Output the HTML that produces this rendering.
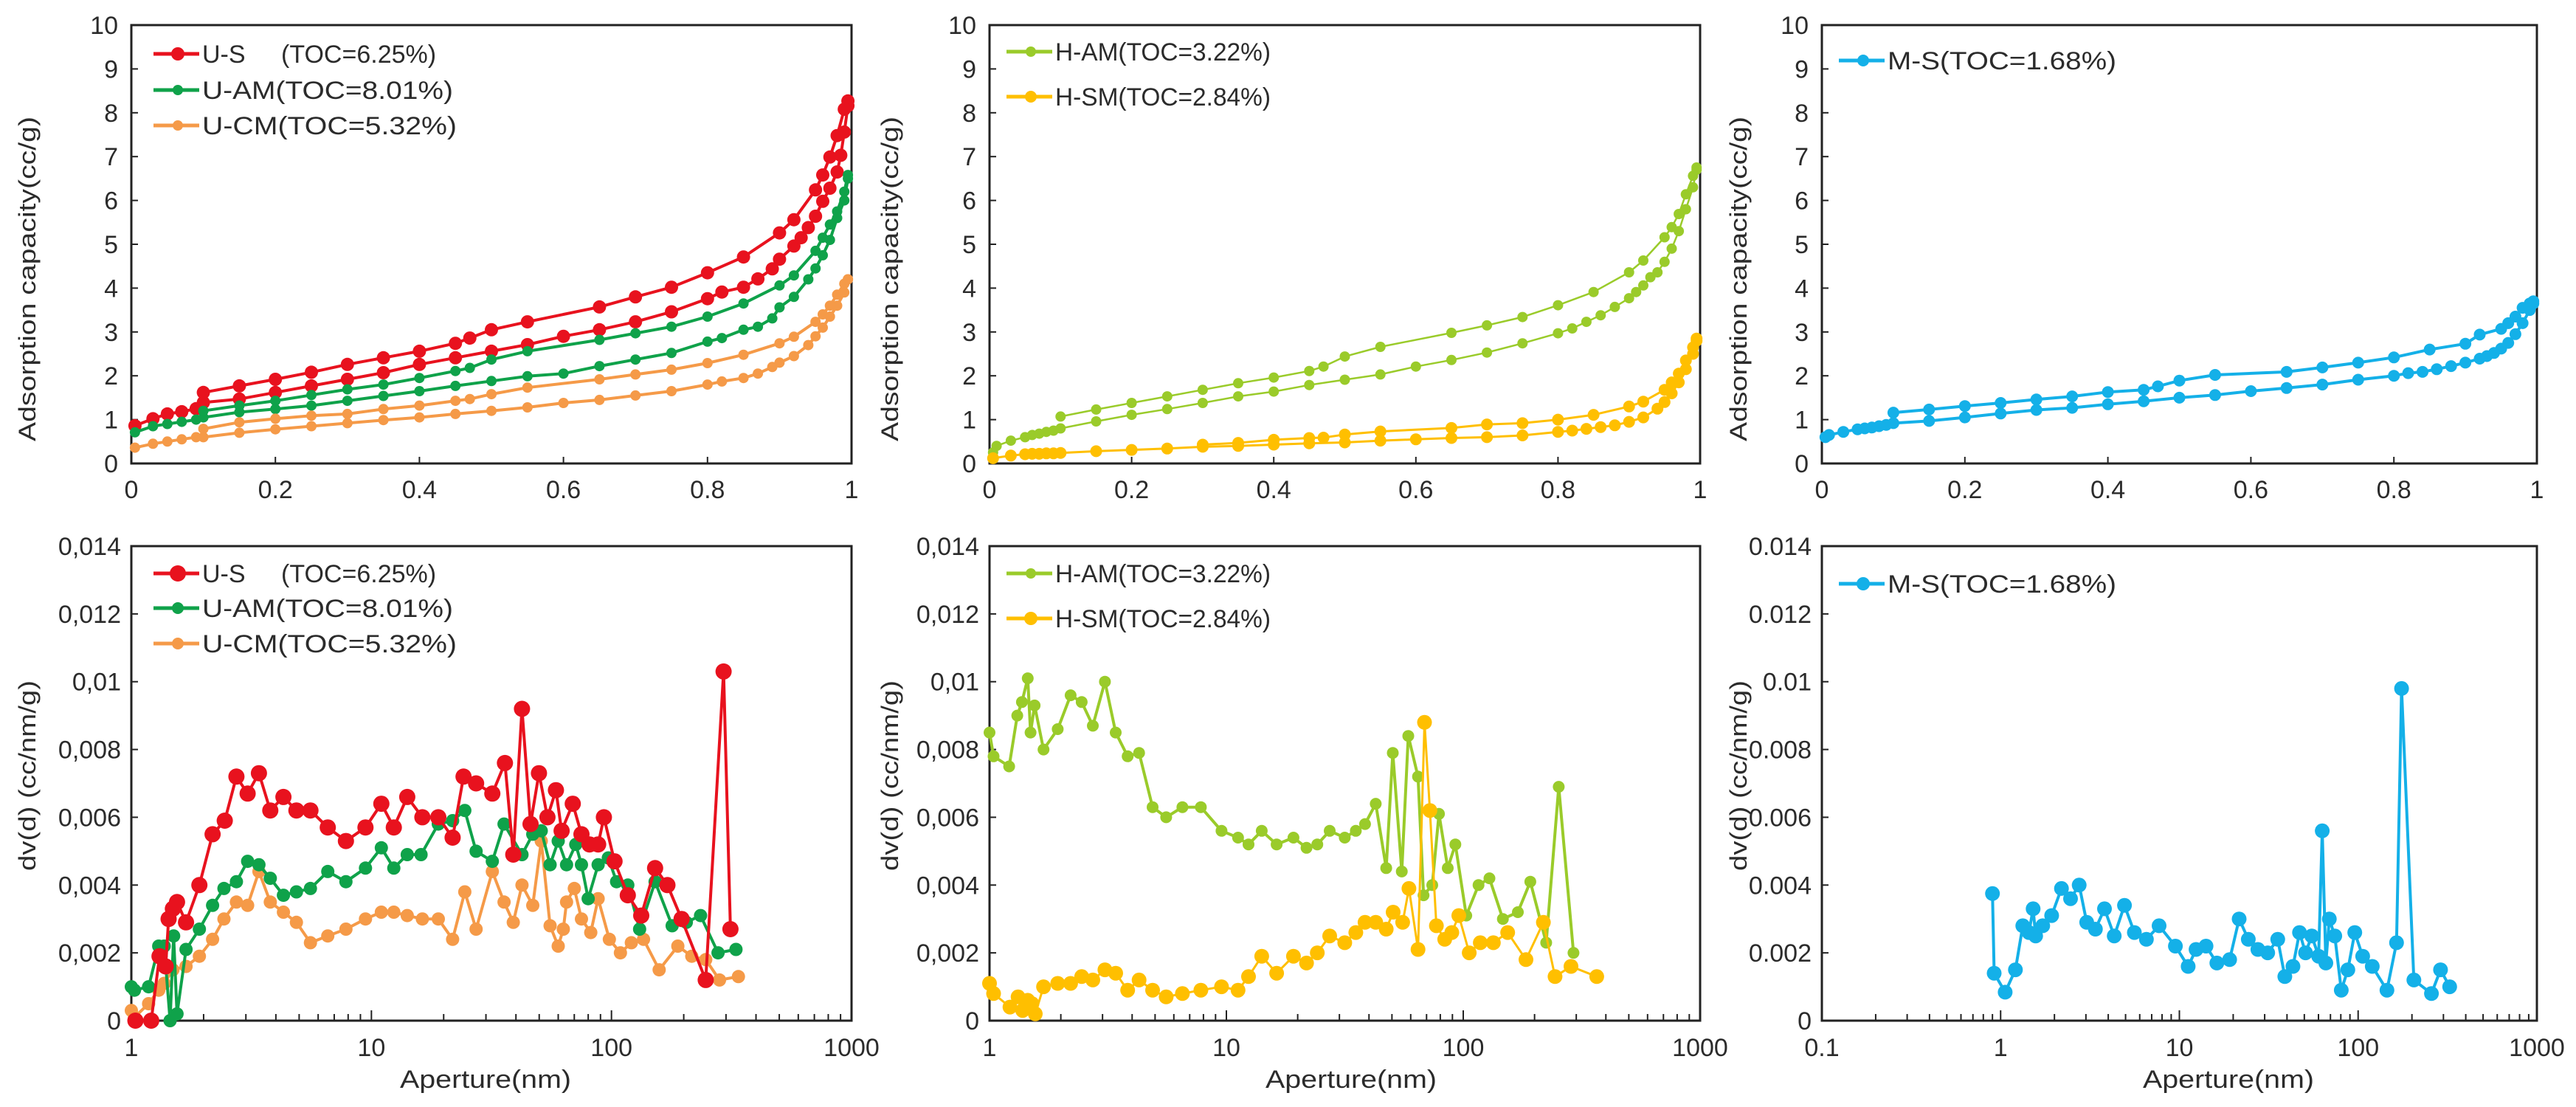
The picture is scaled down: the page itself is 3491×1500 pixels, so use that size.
<!DOCTYPE html>
<html><head><meta charset="utf-8">
<style>
html,body{margin:0;padding:0;background:#fff;}
svg{display:block;font-family:"Liberation Sans",Arial,sans-serif;}
</style></head>
<body>
<svg id="fig" width="3491" height="1500" viewBox="0 0 3491 1500" xmlns="http://www.w3.org/2000/svg"></svg>
<script>
// ---------- Tick labels ----------
const TOP_X_TICKS = [0, 0.2, 0.4, 0.6, 0.8, 1];
const TOP_X_LABELS = ["0", "0.2", "0.4", "0.6", "0.8", "1"];
const TOP_Y_TICKS = [0,1,2,3,4,5,6,7,8,9,10];
const BOT_Y_TICKS = [0,0.002,0.004,0.006,0.008,0.01,0.012,0.014];
const BOT_Y_LABELS_COMMA = ["0","0,002","0,004","0,006","0,008","0,01","0,012","0,014"];
const BOT_Y_LABELS_DOT = ["0","0.002","0.004","0.006","0.008","0.01","0.012","0.014"];
const LOG_X_TICKS_A = [1,10,100,1000];
const LOG_X_TICKS_B = [0.1,1,10,100,1000];

// ---------- Isotherm data (P/P0, cc/g) ----------
const US_ADS_P = [0.005,0.03,0.05,0.07,0.09,0.1,0.15,0.2,0.25,0.3,0.35,0.4,0.45,0.5,0.55,0.6,0.65,0.7,0.75,0.8,0.82,0.85,0.87,0.89,0.9,0.92,0.93,0.94,0.95,0.96,0.97,0.98,0.985,0.99,0.995];
const US_ADS_V = [0.86,1.02,1.13,1.18,1.25,1.39,1.47,1.62,1.77,1.92,2.07,2.26,2.41,2.56,2.71,2.9,3.05,3.23,3.46,3.76,3.91,4.02,4.21,4.44,4.66,4.96,5.15,5.38,5.64,5.98,6.28,6.65,7.03,7.56,8.16];
const US_DES_P = [0.995,0.99,0.98,0.97,0.96,0.95,0.92,0.9,0.85,0.8,0.75,0.7,0.65,0.55,0.5,0.47,0.45,0.4,0.35,0.3,0.25,0.2,0.15,0.1];
const US_DES_V = [8.27,8.08,7.48,6.99,6.58,6.24,5.56,5.26,4.71,4.35,4.02,3.80,3.57,3.23,3.05,2.86,2.74,2.56,2.41,2.26,2.08,1.92,1.77,1.62];

const UAM_ADS_P = [0.005,0.03,0.05,0.07,0.09,0.1,0.15,0.2,0.25,0.3,0.35,0.4,0.45,0.5,0.55,0.6,0.65,0.7,0.75,0.8,0.82,0.85,0.87,0.89,0.9,0.92,0.94,0.95,0.96,0.97,0.98,0.99,0.995];
const UAM_ADS_V = [0.71,0.85,0.9,0.95,1.0,1.05,1.17,1.24,1.32,1.43,1.54,1.65,1.77,1.88,1.99,2.05,2.22,2.37,2.52,2.78,2.86,3.05,3.12,3.31,3.56,3.8,4.2,4.45,4.75,5.1,5.6,6.0,6.5];
const UAM_DES_P = [0.995,0.99,0.98,0.97,0.96,0.95,0.92,0.9,0.85,0.8,0.75,0.7,0.65,0.55,0.5,0.47,0.45,0.4,0.35,0.3,0.25,0.2,0.15,0.1];
const UAM_DES_V = [6.58,6.2,5.75,5.45,5.15,4.85,4.29,4.06,3.65,3.35,3.12,2.97,2.82,2.56,2.37,2.18,2.11,1.95,1.80,1.69,1.56,1.43,1.32,1.2];

const UCM_ADS_P = [0.005,0.03,0.05,0.07,0.09,0.1,0.15,0.2,0.25,0.3,0.35,0.4,0.45,0.5,0.55,0.6,0.65,0.7,0.75,0.8,0.82,0.85,0.87,0.89,0.9,0.92,0.94,0.95,0.96,0.97,0.98,0.99,0.995];
const UCM_ADS_V = [0.36,0.45,0.5,0.55,0.6,0.6,0.7,0.78,0.85,0.92,0.99,1.05,1.13,1.2,1.28,1.38,1.45,1.55,1.65,1.8,1.87,1.95,2.05,2.2,2.3,2.45,2.7,2.9,3.1,3.35,3.6,3.9,4.2];
const UCM_DES_P = [0.995,0.99,0.98,0.97,0.96,0.95,0.92,0.9,0.85,0.8,0.75,0.7,0.65,0.55,0.5,0.47,0.45,0.4,0.35,0.3,0.25,0.2,0.15,0.1];
const UCM_DES_V = [4.2,4.1,3.85,3.6,3.4,3.23,2.89,2.74,2.48,2.29,2.14,2.03,1.92,1.73,1.58,1.47,1.43,1.32,1.24,1.13,1.09,1.02,0.94,0.79];

const HAM_ADS_P = [0.005,0.01,0.03,0.05,0.06,0.07,0.08,0.09,0.1,0.15,0.2,0.25,0.3,0.35,0.4,0.45,0.5,0.55,0.6,0.65,0.7,0.75,0.8,0.82,0.84,0.86,0.88,0.9,0.91,0.92,0.93,0.94,0.95,0.96,0.97,0.98,0.99,0.995];
const HAM_ADS_V = [0.25,0.4,0.52,0.6,0.65,0.68,0.72,0.75,0.8,0.96,1.11,1.24,1.38,1.53,1.64,1.79,1.91,2.03,2.21,2.36,2.53,2.74,2.97,3.08,3.23,3.38,3.57,3.77,3.91,4.06,4.25,4.36,4.6,4.9,5.3,5.8,6.3,6.7];
const HAM_DES_P = [0.995,0.99,0.98,0.97,0.96,0.95,0.92,0.9,0.85,0.8,0.75,0.7,0.65,0.55,0.5,0.47,0.45,0.4,0.35,0.3,0.25,0.2,0.15,0.1];
const HAM_DES_V = [6.75,6.56,6.14,5.69,5.39,5.16,4.63,4.36,3.91,3.61,3.34,3.15,2.98,2.66,2.44,2.21,2.11,1.96,1.83,1.68,1.53,1.38,1.23,1.07];

const HSM_ADS_P = [0.005,0.03,0.05,0.06,0.07,0.08,0.09,0.1,0.15,0.2,0.25,0.3,0.35,0.4,0.45,0.5,0.55,0.6,0.65,0.7,0.75,0.8,0.82,0.84,0.86,0.88,0.9,0.92,0.94,0.95,0.96,0.97,0.98,0.99,0.995];
const HSM_ADS_V = [0.12,0.18,0.21,0.22,0.22,0.23,0.23,0.24,0.28,0.31,0.34,0.38,0.4,0.43,0.46,0.48,0.52,0.55,0.58,0.6,0.64,0.72,0.75,0.79,0.83,0.87,0.95,1.05,1.25,1.4,1.6,1.85,2.15,2.5,2.8];
const HSM_DES_P = [0.995,0.99,0.98,0.97,0.96,0.95,0.92,0.9,0.85,0.8,0.75,0.7,0.65,0.55,0.5,0.47,0.45,0.4,0.35,0.3];
const HSM_DES_V = [2.85,2.65,2.35,2.05,1.85,1.68,1.41,1.3,1.11,1.0,0.92,0.89,0.81,0.73,0.66,0.59,0.58,0.54,0.47,0.43];

const MS_ADS_P = [0.005,0.01,0.03,0.05,0.06,0.07,0.08,0.09,0.1,0.15,0.2,0.25,0.3,0.35,0.4,0.45,0.5,0.55,0.6,0.65,0.7,0.75,0.8,0.82,0.84,0.86,0.88,0.9,0.92,0.93,0.94,0.95,0.96,0.97,0.98,0.99,0.995];
const MS_ADS_V = [0.6,0.65,0.72,0.78,0.8,0.82,0.85,0.88,0.92,0.97,1.05,1.14,1.22,1.27,1.35,1.42,1.5,1.56,1.65,1.72,1.8,1.91,2.0,2.06,2.09,2.15,2.22,2.3,2.39,2.45,2.52,2.62,2.75,2.95,3.2,3.5,3.65];
const MS_DES_P = [0.995,0.99,0.98,0.97,0.96,0.95,0.92,0.9,0.85,0.8,0.75,0.7,0.65,0.55,0.5,0.47,0.45,0.4,0.35,0.3,0.25,0.2,0.15,0.1];
const MS_DES_V = [3.7,3.65,3.55,3.35,3.2,3.07,2.94,2.73,2.6,2.42,2.3,2.19,2.09,2.02,1.89,1.76,1.68,1.63,1.53,1.46,1.38,1.31,1.23,1.16];

// ---------- Pore size distribution data (nm, cc/nm/g) ----------
const US_D = [1.04,1.21,1.31,1.39,1.43,1.49,1.55,1.69,1.92,2.18,2.45,2.74,3.05,3.40,3.79,4.30,4.87,5.57,6.58,7.83,9.45,11.0,12.4,14.1,16.3,19.0,21.8,24.2,27.3,31.9,36.0,39.0,42.4,46.0,49.9,54.1,58.7,62.0,69.0,75.0,81.0,88.0,93.0,103,117,133,152,171,196,247,293,313];
const US_PSD = [0,0,0.0019,0.0016,0.003,0.0033,0.0035,0.0029,0.004,0.0055,0.0059,0.0072,0.0067,0.0073,0.0062,0.0066,0.0062,0.0062,0.0057,0.0053,0.0057,0.0064,0.0057,0.0066,0.006,0.006,0.0054,0.0072,0.007,0.0067,0.0076,0.0049,0.0092,0.0058,0.0073,0.006,0.0068,0.0056,0.0064,0.0055,0.0052,0.0052,0.006,0.0047,0.0037,0.0031,0.0045,0.004,0.003,0.0012,0.0103,0.0027];
const UAM_D = [1.0,1.03,1.18,1.3,1.37,1.45,1.5,1.55,1.69,1.92,2.18,2.43,2.74,3.05,3.4,3.79,4.30,4.87,5.57,6.58,7.83,9.45,11,12.4,14.1,16.1,19,21.8,24.5,27.3,31.9,35.7,42.4,47,51,55.5,60,65,71,75,80,88,97,105,117,131,152,179,205,235,278,330];
const UAM_PSD = [0.0010,0.0009,0.001,0.0022,0.0022,0,0.0025,0.0002,0.0021,0.0027,0.0034,0.0039,0.0041,0.0047,0.0046,0.0042,0.0037,0.0038,0.0039,0.0044,0.0041,0.0045,0.0051,0.0045,0.0049,0.0049,0.0058,0.0059,0.0062,0.005,0.0047,0.0058,0.0049,0.0055,0.0056,0.0046,0.0053,0.0046,0.0052,0.0046,0.0036,0.0046,0.0048,0.0041,0.004,0.0027,0.0041,0.0028,0.0029,0.0031,0.002,0.0021];
const UCM_D = [1.0,1.03,1.18,1.3,1.37,1.49,1.69,1.92,2.18,2.43,2.74,3.05,3.4,3.79,4.3,4.87,5.57,6.58,7.83,9.45,11,12.4,14.1,16.3,19,21.8,24.5,27.3,31.9,35.7,39,42.4,47,51,55.5,60,63,65,70,75,82,88,98,109,121,136,158,189,216,247,282,338];
const UCM_PSD = [0.0003,0.0001,0.0005,0.0009,0.0011,0.0015,0.0016,0.0019,0.0024,0.003,0.0035,0.0034,0.0044,0.0035,0.0032,0.0029,0.0023,0.0025,0.0027,0.003,0.0032,0.0032,0.0031,0.003,0.003,0.0024,0.0038,0.0027,0.0044,0.0035,0.0029,0.004,0.0034,0.0053,0.0028,0.0022,0.0027,0.0035,0.0039,0.003,0.0026,0.0036,0.0024,0.002,0.0023,0.0024,0.0015,0.0022,0.0019,0.0018,0.0012,0.0013];
const HAM_D = [1,1.04,1.21,1.31,1.37,1.45,1.49,1.55,1.69,1.94,2.2,2.45,2.73,3.07,3.41,3.83,4.28,4.88,5.57,6.52,7.8,9.54,11.2,12.4,14.1,16.3,19.2,21.8,24.2,27.3,31.6,35.2,38.5,42.7,47.3,50.4,55,58.6,64.4,68,74,79,86,92.6,103,116,129,147,170,192,224,253,292];
const HAM_PSD = [0.0085,0.0078,0.0075,0.009,0.0094,0.0101,0.0085,0.0093,0.008,0.0086,0.0096,0.0094,0.0087,0.01,0.0085,0.0078,0.0079,0.0063,0.006,0.0063,0.0063,0.0056,0.0054,0.0052,0.0056,0.0052,0.0054,0.0051,0.0052,0.0056,0.0054,0.0056,0.0058,0.0064,0.0045,0.0079,0.0044,0.0084,0.0072,0.0037,0.004,0.0061,0.0045,0.0052,0.0031,0.004,0.0042,0.003,0.0032,0.0041,0.0023,0.0069,0.002];
const HSM_D = [1,1.04,1.22,1.32,1.38,1.45,1.51,1.56,1.69,1.94,2.2,2.45,2.73,3.07,3.41,3.83,4.28,4.88,5.57,6.52,7.8,9.54,11.2,12.4,14.1,16.3,19.2,21.8,24.2,27.3,31.6,35.2,38.5,42.7,47.3,50.6,55.5,59,64.4,68.6,72.3,77,83.5,89.5,95.8,106,118,134,154,184,218,244,285,366];
const HSM_PSD = [0.0011,0.0008,0.0004,0.0007,0.0003,0.0006,0.0005,0.0002,0.001,0.0011,0.0011,0.0013,0.0012,0.0015,0.0014,0.0009,0.0012,0.0009,0.0007,0.0008,0.0009,0.001,0.0009,0.0013,0.0019,0.0014,0.0019,0.0017,0.002,0.0025,0.0023,0.0026,0.0029,0.0029,0.0027,0.0032,0.0029,0.0039,0.0021,0.0088,0.0062,0.0028,0.0024,0.0026,0.0031,0.002,0.0023,0.0023,0.0026,0.0018,0.0029,0.0013,0.0016,0.0013];
const MS_D = [0.9,0.92,1.06,1.21,1.33,1.44,1.52,1.57,1.72,1.93,2.19,2.46,2.75,3.03,3.39,3.81,4.32,4.93,5.6,6.54,7.7,9.5,11.2,12.4,14.1,16.2,19.1,21.6,24.3,27.5,31.2,35.5,38.9,43.2,47,50.8,55,60.1,63,66,69,74,80.5,87.6,95.8,106,120,145,164,175,205,257,289,325];
const MS_PSD = [0.00375,0.0014,0.00084,0.0015,0.0028,0.0026,0.0033,0.0025,0.0028,0.0031,0.0039,0.0036,0.004,0.0029,0.0027,0.0033,0.0025,0.0034,0.0026,0.0024,0.0028,0.0022,0.0016,0.0021,0.0022,0.0017,0.0018,0.003,0.0024,0.0021,0.002,0.0024,0.0013,0.0016,0.0026,0.002,0.0025,0.0019,0.0056,0.0017,0.003,0.0025,0.0009,0.0015,0.0026,0.0019,0.0016,0.0009,0.0023,0.0098,0.0012,0.0008,0.0015,0.001];

// ---------- rendering ----------
const NS = "http://www.w3.org/2000/svg";
const svg = document.getElementById("fig");
const TXT = "#2b2b2b", AX = "#222";
function el(tag, attrs, parent){ const e=document.createElementNS(NS,tag); for(const k in attrs) e.setAttribute(k,attrs[k]); (parent||svg).appendChild(e); return e; }

const COLS = [{x0:178,x1:1154},{x0:1341,x1:2304},{x0:2469,x1:3438}];
const TOP = {y0:34,y1:628}, BOT = {y0:740,y1:1383};
const YLAB_X = [37,1206,2356];

function linX(c){ return v => c.x0 + v*(c.x1-c.x0); }
function linY(r,max){ return v => r.y1 - v/max*(r.y1-r.y0); }
function logX(c,lo,hi){ const a=Math.log10(lo), b=Math.log10(hi); return v => c.x0 + (Math.log10(v)-a)/(b-a)*(c.x1-c.x0); }

function frame(c, r, name){
  const g = el("g",{});
  
  
  const f = el("rect",{x:c.x0,y:r.y0,width:c.x1-c.x0,height:r.y1-r.y0,fill:"none",stroke:AX,"stroke-width":3},g);
  
  
  return g;
}

function series(g, xs, ys, sx, sy, color, lw, rad, name){
  const sg = el("g",{},g);
  
  
  let d = "";
  xs.forEach((x,i)=>{ d += (i?"L":"M") + sx(x).toFixed(1) + "," + sy(ys[i]).toFixed(1); });
  const p = el("path",{d:d,fill:"none",stroke:color,"stroke-width":lw,"stroke-linejoin":"round"},sg);
  
  
  xs.forEach((x,i)=>{
    const c = el("circle",{cx:sx(x).toFixed(1),cy:sy(ys[i]).toFixed(1),r:rad,fill:color},sg);
    
    
  });
}

function legend(g, x0, items){
  items.forEach(it=>{
    const lg = el("g",{},g);
    
    
    el("line",{x1:x0,x2:x0+62,y1:it.y,y2:it.y,stroke:it.color,"stroke-width":5},lg);
    el("circle",{cx:x0+33,cy:it.y,r:it.r,fill:it.color},lg);
    const t = el("text",{x:x0+66,y:it.y+12,"font-size":34,fill:TXT},lg);
    if(it.gap){
      const t1 = el("tspan",{},t); t1.textContent = it.label;
      const t2 = el("tspan",{x:x0+66+it.gap},t); t2.textContent = it.label2;
    } else {
      t.textContent = it.label;
      t.setAttribute("textLength", it.w); t.setAttribute("lengthAdjust","spacingAndGlyphs");
    }
  });
}

function yLabel(x, yc, text, len){
  const t = el("text",{x:0,y:0,"font-size":32,fill:TXT,"text-anchor":"middle",transform:`translate(${x+11},${yc}) rotate(-90)`,textLength:len,lengthAdjust:"spacingAndGlyphs"});
  t.textContent = text;
  
  
}

// ----- top row -----
const TOP_SERIES = [
  [ [US_ADS_P,US_ADS_V,US_DES_P,US_DES_V,"#e8121e",4,9,"u-s"], [UAM_ADS_P,UAM_ADS_V,UAM_DES_P,UAM_DES_V,"#0fa24a",4,7,"u-am"], [UCM_ADS_P,UCM_ADS_V,UCM_DES_P,UCM_DES_V,"#f59a48",4,7,"u-cm"] ],
  [ [HAM_ADS_P,HAM_ADS_V,HAM_DES_P,HAM_DES_V,"#9acb2a",2.5,7,"h-am"], [HSM_ADS_P,HSM_ADS_V,HSM_DES_P,HSM_DES_V,"#ffbf00",3,8,"h-sm"] ],
  [ [MS_ADS_P,MS_ADS_V,MS_DES_P,MS_DES_V,"#14b0e8",4,8,"m-s"] ]
];
const TOP_LEG = [
  [{y:73,color:"#e8121e",r:9,label:"U-S",label2:"(TOC=6.25%)",gap:107},{y:122,color:"#0fa24a",r:7,label:"U-AM(TOC=8.01%)",w:340},{y:170,color:"#f59a48",r:7,label:"U-CM(TOC=5.32%)",w:345}],
  [{y:70,color:"#9acb2a",r:7,label:"H-AM(TOC=3.22%)",w:292},{y:131,color:"#ffbf00",r:8,label:"H-SM(TOC=2.84%)",w:292}],
  [{y:82,color:"#14b0e8",r:8,label:"M-S(TOC=1.68%)",w:310}]
];
const TOP_LEG_X = [208, 1364, 2492];

COLS.forEach((c,pi)=>{
  const g = frame(c, TOP, "isotherm-panel-"+(pi+1));
  const sx = linX(c), sy = linY(TOP,10);
  TOP_X_TICKS.forEach((v,i)=>{
    el("line",{x1:sx(v),x2:sx(v),y1:TOP.y1,y2:TOP.y1-9,stroke:AX,"stroke-width":2},g);
    const t = el("text",{x:sx(v),y:TOP.y1+47,"font-size":34,fill:TXT,"text-anchor":"middle"},g);
    t.textContent = TOP_X_LABELS[i];
    
    
  });
  TOP_Y_TICKS.forEach(v=>{
    el("line",{x1:c.x0,x2:c.x0+9,y1:sy(v),y2:sy(v),stroke:AX,"stroke-width":2},g);
    const t = el("text",{x:c.x0-18,y:sy(v)+12,"font-size":34,fill:TXT,"text-anchor":"end"},g);
    t.textContent = String(v);
    
    
  });
  TOP_SERIES[pi].forEach(s=>{
    series(g, s[0], s[1], sx, sy, s[4], s[5], s[6], s[7]+"-adsorption");
    series(g, s[2], s[3], sx, sy, s[4], s[5], s[6], s[7]+"-desorption");
  });
  legend(g, TOP_LEG_X[pi], TOP_LEG[pi]);
  yLabel(YLAB_X[pi], 378, "Adsorption capacity(cc/g)", 440);
});

// ----- bottom row -----
const BOT_SERIES = [
  [ [UCM_D,UCM_PSD,"#f59a48",4,9,"u-cm-psd"], [UAM_D,UAM_PSD,"#0fa24a",4,9,"u-am-psd"], [US_D,US_PSD,"#e8121e",4,11,"u-s-psd"] ],
  [ [HAM_D,HAM_PSD,"#9acb2a",4,8,"h-am-psd"], [HSM_D,HSM_PSD,"#ffbf00",3,10,"h-sm-psd"] ],
  [ [MS_D,MS_PSD,"#14b0e8",4,10,"m-s-psd"] ]
];
const BOT_LEG = [
  [{y:777,color:"#e8121e",r:11,label:"U-S",label2:"(TOC=6.25%)",gap:107},{y:824,color:"#0fa24a",r:8,label:"U-AM(TOC=8.01%)",w:340},{y:872,color:"#f59a48",r:8,label:"U-CM(TOC=5.32%)",w:345}],
  [{y:777,color:"#9acb2a",r:7,label:"H-AM(TOC=3.22%)",w:292},{y:838,color:"#ffbf00",r:9,label:"H-SM(TOC=2.84%)",w:292}],
  [{y:791,color:"#14b0e8",r:9,label:"M-S(TOC=1.68%)",w:310}]
];
const XLAB_X = [658, 1831, 3020];

COLS.forEach((c,pi)=>{
  const g = frame(c, BOT, "psd-panel-"+(pi+1));
  const ticks = pi===2 ? LOG_X_TICKS_B : LOG_X_TICKS_A;
  const sx = logX(c, ticks[0], ticks[ticks.length-1]);
  const sy = linY(BOT, 0.014);
  ticks.forEach((v,i)=>{
    el("line",{x1:sx(v),x2:sx(v),y1:BOT.y1,y2:BOT.y1-14,stroke:AX,"stroke-width":2},g);
    if(i<ticks.length-1){ for(let m=2;m<=9;m++){ const mv=v*m; el("line",{x1:sx(mv),x2:sx(mv),y1:BOT.y1,y2:BOT.y1-9,stroke:AX,"stroke-width":2},g); } }
    const t = el("text",{x:sx(v),y:BOT.y1+48,"font-size":34,fill:TXT,"text-anchor":"middle"},g);
    t.textContent = String(v);
    
    
  });
  const labs = pi===2 ? BOT_Y_LABELS_DOT : BOT_Y_LABELS_COMMA;
  BOT_Y_TICKS.forEach((v,i)=>{
    el("line",{x1:c.x0,x2:c.x0+9,y1:sy(v),y2:sy(v),stroke:AX,"stroke-width":2},g);
    const t = el("text",{x:c.x0-14,y:sy(v)+12,"font-size":34,fill:TXT,"text-anchor":"end"},g);
    t.textContent = labs[i];
    
    
  });
  BOT_SERIES[pi].forEach(s=> series(g, s[0], s[1], sx, sy, s[2], s[3], s[4], s[5]));
  legend(g, TOP_LEG_X[pi], BOT_LEG[pi]);
  yLabel(YLAB_X[pi], 1051, "dv(d) (cc/nm/g)", 258);
  const xt = el("text",{x:XLAB_X[pi],y:1474,"font-size":34,fill:TXT,"text-anchor":"middle",textLength:232,lengthAdjust:"spacingAndGlyphs"},g);
  xt.textContent = "Aperture(nm)";
  
  
});
</script>
</body></html>
